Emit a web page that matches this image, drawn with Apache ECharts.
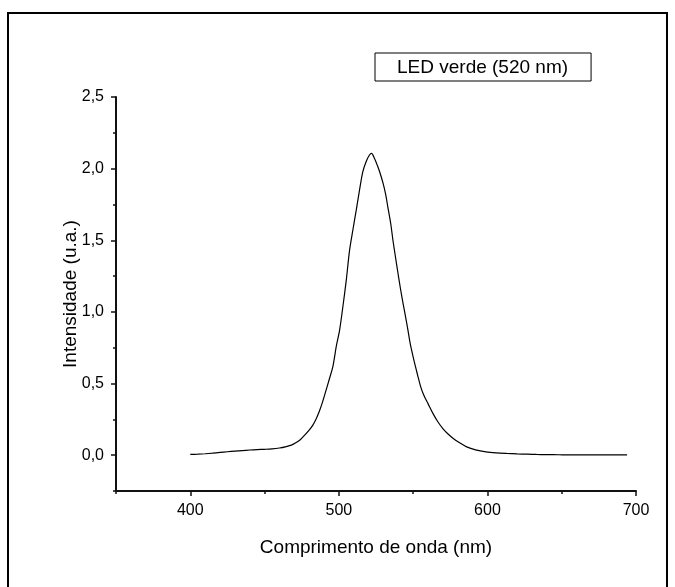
<!DOCTYPE html>
<html>
<head>
<meta charset="utf-8">
<script src="https://cdn.jsdelivr.net/npm/echarts@6/dist/echarts.min.js"></script>
<style>
html,body{margin:0;padding:0;background:#fff;}
#chart{width:675px;height:587px;}
</style>
</head>
<body>
<div id="chart"></div>
<script>
var seriesName = 'LED verde (520 nm)';
var xTitle = 'Comprimento de onda (nm)';
var yTitle = 'Intensidade (u.a.)';
var xMajorTicks = [400, 500, 600, 700];
var xMinorTicks = [350, 450, 550, 650];
var yMajorTicks = [0, 0.5, 1.0, 1.5, 2.0, 2.5];
var yMinorTicks = [-0.25, 0.25, 0.75, 1.25, 1.75, 2.25];
var wavelengths = [400,405,410,415,420,425,430,435,440,445,450,455,460,464,468,471,474,477,480,482.5,485,487,489,491,493.7,496,498.2,500.5,502.7,505,507.2,509.4,511.7,513.9,516.1,518.4,520.6,522,524,526,527.4,529.7,531.5,533,535,536.4,538,539.8,541.5,543.2,545,546.5,548,550,552,553.3,555,556.7,558.5,560,563.4,566.5,570,573.5,577,581,586,592,599,606,613,620,627,633,640,648,656,665,675,685,694];
var intensities = [0.005,0.007,0.010,0.014,0.019,0.024,0.028,0.032,0.036,0.039,0.041,0.044,0.050,0.058,0.070,0.086,0.108,0.140,0.175,0.21,0.26,0.31,0.37,0.44,0.535,0.62,0.756,0.873,1.036,1.222,1.43,1.57,1.71,1.85,1.978,2.05,2.095,2.107,2.07,2.02,1.98,1.90,1.82,1.73,1.61,1.50,1.39,1.27,1.16,1.06,0.96,0.873,0.78,0.686,0.60,0.547,0.48,0.43,0.39,0.36,0.29,0.235,0.186,0.148,0.117,0.088,0.058,0.037,0.023,0.016,0.012,0.009,0.007,0.005,0.004,0.003,0.002,0.002,0.002,0.002,0.002];

var data = wavelengths.map(function (w, i) { return [w, intensities[i]]; });
var FONT = 'Liberation Sans, Arial, sans-serif';
var AX = '#111';
function fmt(v) { return v.toFixed(1).replace('.', ','); }

var chart = echarts.init(document.getElementById('chart'), null, {renderer: 'canvas'});
chart.setOption({
  backgroundColor: '#fff',
  animation: false,
  graphic: [{
    type: 'rect', silent: true,
    shape: {x: 8, y: 13, width: 659, height: 620},
    style: {fill: 'none', stroke: '#000', lineWidth: 2}
  }],
  legend: {
    left: 375, top: 53,
    data: [{name: seriesName, icon: 'none'}],
    itemWidth: 0, itemHeight: 0, itemGap: 0,
    borderColor: '#000', borderWidth: 1,
    padding: [5, 23, 4, 17],
    selectedMode: false,
    textStyle: {fontFamily: FONT, fontSize: 19, color: '#000'}
  },
  grid: {left: 116, right: 39, top: 97, bottom: 96},
  xAxis: [{
    type: 'value', min: 350, max: 700,
    name: xTitle, nameLocation: 'middle', nameGap: 47,
    nameTextStyle: {fontFamily: FONT, fontSize: 19, color: '#000'},
    axisLine: {show: true, onZero: false, lineStyle: {color: AX, width: 2}},
    axisTick: {show: true, inside: false, length: 5, customValues: xMajorTicks, lineStyle: {color: AX, width: 1.5}},
    axisLabel: {customValues: xMajorTicks, margin: 12, fontFamily: FONT, fontSize: 16, color: '#000'},
    splitLine: {show: false}
  }, {
    type: 'value', min: 350, max: 700, position: 'bottom',
    axisLine: {show: false, onZero: false},
    axisTick: {show: true, inside: false, length: 3, customValues: xMinorTicks, lineStyle: {color: AX, width: 1.5}},
    axisLabel: {show: false},
    splitLine: {show: false}
  }],
  yAxis: [{
    type: 'value', min: -0.25, max: 2.5,
    name: yTitle, nameLocation: 'middle', nameGap: 36, nameMoveOverlap: false,
    nameTextStyle: {fontFamily: FONT, fontSize: 19, color: '#000'},
    axisLine: {show: true, onZero: false, lineStyle: {color: AX, width: 2}},
    axisTick: {show: true, inside: false, length: 5, customValues: yMajorTicks, lineStyle: {color: AX, width: 1.5}},
    axisLabel: {customValues: yMajorTicks, margin: 12, formatter: fmt, fontFamily: FONT, fontSize: 16, color: '#000'},
    splitLine: {show: false}
  }, {
    type: 'value', min: -0.25, max: 2.5, position: 'left',
    axisLine: {show: false, onZero: false},
    axisTick: {show: true, inside: false, length: 3, customValues: yMinorTicks, lineStyle: {color: AX, width: 1.5}},
    axisLabel: {show: false},
    splitLine: {show: false}
  }],
  series: [{
    name: seriesName, type: 'line', data: data,
    xAxisIndex: 0, yAxisIndex: 0,
    showSymbol: false, symbol: 'none', smooth: 0.3,
    lineStyle: {color: '#000', width: 1.2}
  }]
});
</script>
</body>
</html>
